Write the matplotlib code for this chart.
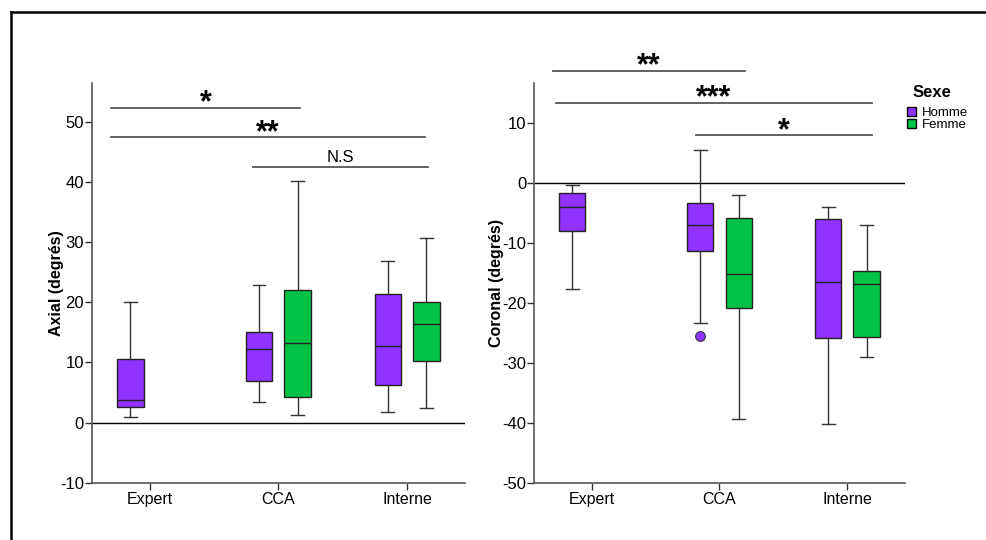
import matplotlib
matplotlib.use('Agg')
import matplotlib.pyplot as plt
import matplotlib.patches as mpatches
from matplotlib.lines import Line2D

plt.rcParams['font.family'] = ['Liberation Sans', 'DejaVu Sans']

# groups and sexes
groups = ['Expert', 'CCA', 'Interne']
sexes = ['Homme', 'Femme']
colors = {'Homme': '#9132FF', 'Femme': '#00C346'}

# Axial (degres): [whislo, q1, med, q3, whishi] per (group, sex)
axial = {
    ('Expert', 'Homme'): [1.0, 2.6, 3.8, 10.5, 20.0],
    ('CCA', 'Homme'): [3.4, 6.9, 12.2, 15.1, 22.9],
    ('CCA', 'Femme'): [1.3, 4.2, 13.2, 22.1, 40.1],
    ('Interne', 'Homme'): [1.7, 6.3, 12.8, 21.4, 26.8],
    ('Interne', 'Femme'): [2.5, 10.3, 16.4, 20.0, 30.7],
}
axial_fliers = {}

# Coronal (degres)
coronal = {
    ('Expert', 'Homme'): [-17.7, -8.0, -4.0, -1.7, -0.4],
    ('CCA', 'Homme'): [-23.3, -11.4, -7.1, -3.4, 5.5],
    ('CCA', 'Femme'): [-39.4, -20.8, -15.2, -5.9, -2.0],
    ('Interne', 'Homme'): [-40.2, -25.8, -16.6, -6.0, -4.1],
    ('Interne', 'Femme'): [-29.1, -25.7, -16.8, -14.7, -7.0],
}
coronal_fliers = {('CCA', 'Homme'): [-25.5]}

# significance bars: (x_start, x_end, y, label)
axial_sig = [(-0.30, 1.17, 52.3, '*'), (-0.30, 2.14, 47.4, '**'), (0.80, 2.16, 42.4, 'N.S')]
coronal_sig = [(-0.30, 1.20, 18.7, '**'), (-0.28, 2.19, 13.4, '***'), (0.82, 2.19, 7.9, '*')]

offsets = {'Homme': -0.15, 'Femme': 0.15}

fig = plt.figure(figsize=(9.87, 5.4), dpi=100)
ax1 = fig.add_axes([0.0929, 0.1061, 0.3782, 0.7408])
ax2 = fig.add_axes([0.541, 0.1061, 0.3759, 0.7396])

# outer frame
fig.add_artist(Line2D([0.011, 1.0], [0.978, 0.978], transform=fig.transFigure, color='black', lw=1.8))
fig.add_artist(Line2D([0.011, 0.011], [0.978, 0.0], transform=fig.transFigure, color='black', lw=1.8))


def draw(ax, data, fliers, sig, ylim, yticks, ylabel, pad):
    for (g, s), v in data.items():
        st = {'whislo': v[0], 'q1': v[1], 'med': v[2], 'q3': v[3], 'whishi': v[4],
              'fliers': fliers.get((g, s), [])}
        pos = groups.index(g) + offsets[s]
        ax.bxp([st], positions=[pos], widths=0.205, patch_artist=True,
               boxprops=dict(facecolor=colors[s], edgecolor='#222222', lw=1.0),
               medianprops=dict(color='#222222', lw=1.0),
               whiskerprops=dict(color='#333333', lw=1.0),
               capprops=dict(color='#333333', lw=1.0),
               flierprops=dict(marker='o', markersize=7, markerfacecolor=colors[s],
                               markeredgecolor='#333333', markeredgewidth=0.8),
               capwidths=0.1, manage_ticks=False)
    ax.axhline(0, color='black', lw=1.0, zorder=0.5)
    for x0, x1, y, lab in sig:
        ax.plot([x0, x1], [y, y], color='#555555', lw=1.3, clip_on=False)
        if lab == 'N.S':
            ax.annotate(lab, ((x0 + x1) / 2, y), xytext=(0, 2), textcoords='offset points',
                        ha='center', va='bottom', fontsize=12, annotation_clip=False)
        else:
            ax.annotate(lab, ((x0 + x1) / 2, y), xytext=(0, -2.5), textcoords='offset points',
                        ha='center', va='baseline', fontsize=22, fontweight='bold',
                        annotation_clip=False)
    ax.set_xlim(-0.45, 2.45)
    ax.set_ylim(*ylim)
    ax.set_xticks(range(len(groups)))
    ax.set_xticklabels(groups, fontsize=11.5)
    ax.set_yticks(yticks)
    ax.set_yticklabels([str(t) for t in yticks], fontsize=12)
    ax.set_ylabel(ylabel, fontsize=11.5, fontweight='bold', labelpad=pad)
    for sp in ['top', 'right']:
        ax.spines[sp].set_visible(False)
    for sp in ['left', 'bottom']:
        ax.spines[sp].set_color('#555555')
        ax.spines[sp].set_linewidth(1.2)
    ax.tick_params(colors='#333333', labelcolor='black', length=5, width=1.0)
    ax.tick_params(axis='y', pad=0.5)
    ax.tick_params(axis='x', pad=2)


draw(ax1, axial, axial_fliers, axial_sig, (-10, 56.5), [-10, 0, 10, 20, 30, 40, 50],
     'Axial (degrés)', -2.5)
draw(ax2, coronal, coronal_fliers, coronal_sig, (-50, 16.6), [-50, -40, -30, -20, -10, 0, 10],
     'Coronal (degrés)', -1.0)

fig.text(0.925, 0.828, 'Sexe', fontsize=12, fontweight='bold', ha='left', va='center')
handles = [mpatches.Patch(facecolor=colors[s], edgecolor='black', label=s) for s in sexes]
leg = fig.legend(handles=handles, loc='upper left', bbox_to_anchor=(0.919, 0.802),
                 frameon=False, fontsize=9.5, handlelength=0.65, handleheight=0.65,
                 handletextpad=0.45, labelspacing=0.0, borderpad=0, borderaxespad=0)

fig.savefig('out.png', dpi=100)
